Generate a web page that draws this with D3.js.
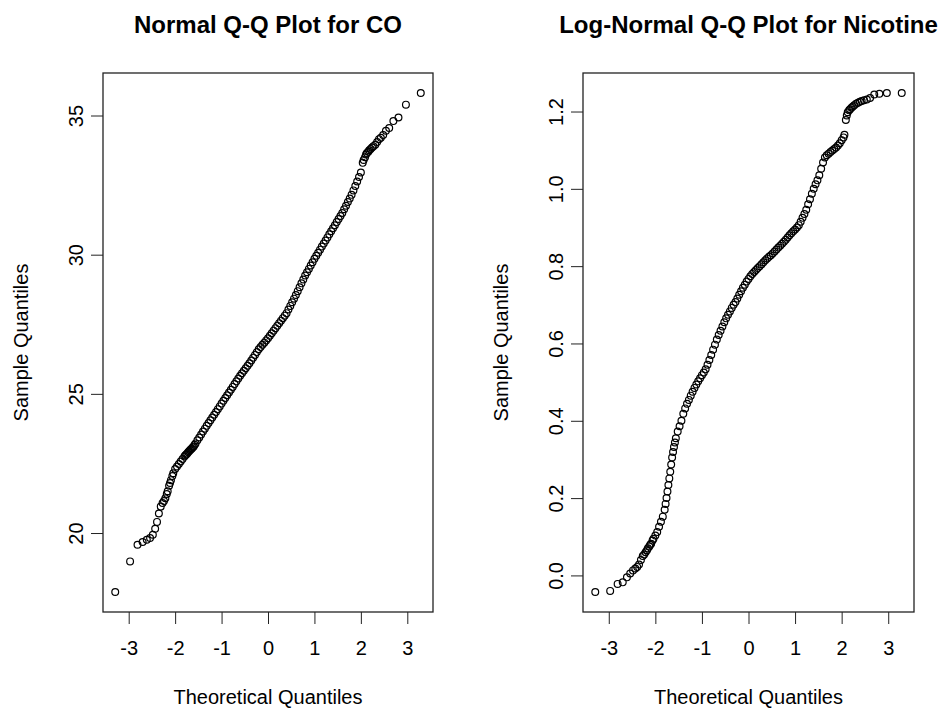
<!DOCTYPE html>
<html lang="en"><head>
<meta charset="utf-8">
<title>Q-Q plots</title>
<script src="https://cdn.jsdelivr.net/npm/d3@7"></script>
<style>
  body { margin: 0; background: #fff; }
  svg text { font-family: "Liberation Sans", Arial, sans-serif; fill: #000; }
</style>
</head>
<body>
<svg id="chart" width="943" height="713"></svg>
<script>
// theoretical normal quantiles (shared by both panels)
const theoretical = [
  -3.29, -2.97, -2.81, -2.70, -2.61, -2.54, -2.48, -2.43, -2.39, -2.35, -2.31,
  -2.27, -2.24, -2.21, -2.18, -2.16, -2.13, -2.11, -2.09, -2.06, -2.04,
  -2.00, -1.96, -1.92, -1.88, -1.84, -1.80, -1.76, -1.72, -1.68, -1.64,
  -1.60, -1.56, -1.52, -1.48, -1.44, -1.40, -1.36, -1.32, -1.28, -1.24,
  -1.20, -1.16, -1.12, -1.08, -1.04, -1.00, -0.96, -0.92, -0.88, -0.84,
  -0.80, -0.76, -0.72, -0.68, -0.64, -0.60, -0.56, -0.52, -0.48, -0.44,
  -0.40, -0.36, -0.32, -0.28, -0.24, -0.20, -0.16, -0.12, -0.08, -0.04,
  0.00, 0.04, 0.08, 0.12, 0.16, 0.20, 0.24, 0.28, 0.32, 0.36,
  0.40, 0.44, 0.48, 0.52, 0.56, 0.60, 0.64, 0.68, 0.72, 0.76,
  0.80, 0.84, 0.88, 0.92, 0.96, 1.00, 1.04, 1.08, 1.12, 1.16,
  1.20, 1.24, 1.28, 1.32, 1.36, 1.40, 1.44, 1.48, 1.52, 1.56,
  1.60, 1.64, 1.68, 1.72, 1.76, 1.80, 1.84, 1.88, 1.92, 1.96, 2.00,
  2.04, 2.06, 2.09, 2.11, 2.13, 2.16, 2.18, 2.21, 2.24, 2.27, 2.31,
  2.35, 2.39, 2.43, 2.48, 2.54, 2.61, 2.70, 2.81, 2.97, 3.29,
  -1.78, -1.74, -1.70, -1.66, -1.62, -1.58
];

// sample quantiles of CO
const co = [
  17.88, 18.98, 19.58, 19.68, 19.76, 19.82, 19.94, 20.15, 20.40, 20.70, 20.95,
  21.08, 21.15, 21.25, 21.40, 21.50, 21.70, 21.80, 21.90, 22.05, 22.15,
  22.30, 22.39, 22.48, 22.57, 22.66, 22.75, 22.82, 22.90, 22.97, 23.04,
  23.11, 23.22, 23.33, 23.43, 23.54, 23.65, 23.75, 23.85, 23.95, 24.05,
  24.15, 24.25, 24.35, 24.45, 24.55, 24.65, 24.75, 24.85, 24.95, 25.05,
  25.15, 25.25, 25.35, 25.45, 25.55, 25.65, 25.74, 25.83, 25.92, 26.01,
  26.10, 26.20, 26.30, 26.40, 26.50, 26.60, 26.68, 26.76, 26.84, 26.92,
  27.00, 27.09, 27.18, 27.27, 27.36, 27.45, 27.54, 27.63, 27.72, 27.81,
  27.90, 28.03, 28.16, 28.29, 28.42, 28.55, 28.69, 28.83, 28.97, 29.11,
  29.25, 29.37, 29.49, 29.61, 29.73, 29.85, 29.96, 30.07, 30.18, 30.29,
  30.40, 30.51, 30.62, 30.73, 30.84, 30.95, 31.06, 31.17, 31.28, 31.39,
  31.50, 31.63, 31.76, 31.89, 32.02, 32.15, 32.31, 32.47, 32.63, 32.79, 32.95,
  33.30, 33.40, 33.50, 33.60, 33.65, 33.70, 33.75, 33.80, 33.85, 33.90, 33.95,
  34.05, 34.15, 34.20, 34.30, 34.45, 34.55, 34.80, 34.93, 35.39, 35.81,
  22.79, 22.86, 22.94, 23.01, 23.08, 23.17
];

// sample quantiles of log(Nicotine)
const logNicotine = [
  -0.043, -0.040, -0.022, -0.018, -0.005, 0.005, 0.013, 0.018, 0.022, 0.028, 0.040,
  0.050, 0.054, 0.060, 0.065, 0.070, 0.075, 0.079, 0.082, 0.090, 0.095,
  0.103, 0.112, 0.126, 0.139, 0.152, 0.170, 0.200, 0.234, 0.268, 0.305,
  0.332, 0.355, 0.372, 0.386, 0.400, 0.418, 0.432, 0.444, 0.454, 0.465,
  0.475, 0.485, 0.494, 0.502, 0.510, 0.518, 0.525, 0.533, 0.545, 0.557,
  0.570, 0.584, 0.597, 0.610, 0.622, 0.633, 0.644, 0.655, 0.665, 0.674,
  0.683, 0.692, 0.700, 0.707, 0.716, 0.726, 0.735, 0.744, 0.752, 0.760,
  0.767, 0.774, 0.780, 0.785, 0.790, 0.795, 0.800, 0.805, 0.810, 0.815,
  0.820, 0.824, 0.828, 0.833, 0.838, 0.843, 0.848, 0.853, 0.858, 0.863,
  0.868, 0.874, 0.880, 0.885, 0.890, 0.895, 0.900, 0.906, 0.915, 0.925,
  0.935, 0.946, 0.960, 0.973, 0.987, 1.000, 1.012, 1.022, 1.035, 1.052,
  1.068, 1.081, 1.087, 1.091, 1.095, 1.099, 1.103, 1.107, 1.112, 1.118, 1.126,
  1.133, 1.140, 1.178, 1.190, 1.198, 1.203, 1.206, 1.210, 1.213, 1.216, 1.220,
  1.223, 1.225, 1.227, 1.229, 1.231, 1.235, 1.244, 1.246, 1.248, 1.248,
  0.185, 0.217, 0.251, 0.287, 0.319, 0.344
];

const xTicks = [-3, -2, -1, 0, 1, 2, 3];
const coTicks = [20, 25, 30, 35];
const nicotineTicks = [0.0, 0.2, 0.4, 0.6, 0.8, 1.0, 1.2];
const titles = ["Normal Q-Q Plot for CO", "Log-Normal Q-Q Plot for Nicotine"];
const xLabel = "Theoretical Quantiles";
const yLabel = "Sample Quantiles";

const svg = d3.select("#chart");
const plotTop = 73, plotBottom = 612;

// R style limits: data range padded by 4% on each side
function rlim(v) {
  let [a, b] = d3.extent(v);
  let pad = (b - a) * 0.04;
  return [a - pad, b + pad];
}

// R prints a plain hyphen for negatives
let fmtInt = d => String(d);
let fmtOne = d => d.toFixed(1);

let panels = [
  {left: 103, right: 433, values: co, ticks: coTicks, fmt: fmtInt, title: titles[0]},
  {left: 583, right: 914, values: logNicotine, ticks: nicotineTicks, fmt: fmtOne, title: titles[1]}
];

panels.forEach(p => {
  let x = d3.scaleLinear().domain(rlim(theoretical)).range([p.left, p.right]);
  let y = d3.scaleLinear().domain(rlim(p.values)).range([plotBottom, plotTop]);
  let pts = theoretical.map((t, i) => ({t: t, v: p.values[i]}));
  let g = svg.append("g");

  g.append("g")
    .selectAll("circle")
    .data(pts)
    .enter()
    .append("circle")
    .attr("cx", d => x(d.t))
    .attr("cy", d => y(d.v))
    .attr("r", 3.4)
    .attr("fill", "none")
    .attr("stroke", "#000")
    .attr("stroke-width", 1.2);

  // x axis
  let gx = g.append("g")
    .attr("transform", `translate(0,${plotBottom})`)
    .call(d3.axisBottom(x).tickValues(xTicks).tickSize(12).tickFormat(fmtInt));
  gx.select(".domain").remove();
  gx.selectAll("line").attr("stroke", "#222");
  gx.selectAll("text")
    .attr("y", 36)
    .attr("dy", "0.35em")
    .attr("font-size", 20)
    .attr("fill", "#111");

  // y axis with labels turned like R does
  let gy = g.append("g")
    .attr("transform", `translate(${p.left},0)`)
    .call(d3.axisLeft(y).tickValues(p.ticks).tickSize(12).tickFormat(p.fmt));
  gy.select(".domain").remove();
  gy.selectAll("line").attr("stroke", "#222");
  gy.selectAll("text")
    .attr("x", 0)
    .attr("y", -27)
    .attr("dy", "0.35em")
    .attr("transform", "rotate(-90)")
    .attr("text-anchor", "middle")
    .attr("font-size", 20)
    .attr("fill", "#111");
  gx.attr("font-family", null);
  gy.attr("font-family", null);

  g.append("rect")
    .attr("x", p.left)
    .attr("y", plotTop)
    .attr("width", p.right - p.left)
    .attr("height", plotBottom - plotTop)
    .attr("fill", "none")
    .attr("stroke", "#222")
    .attr("stroke-width", 1.3);

  let cx = (p.left + p.right) / 2;
  g.append("text")
    .attr("x", cx)
    .attr("y", 33)
    .attr("text-anchor", "middle")
    .attr("font-size", 24)
    .attr("font-weight", "bold")
    .text(p.title);

  g.append("text")
    .attr("x", cx)
    .attr("y", 704)
    .attr("text-anchor", "middle")
    .attr("font-size", 20)
    .attr("fill", "#111")
    .text(xLabel);

  g.append("text")
    .attr("transform", `translate(${p.left - 82},${(plotTop + plotBottom) / 2}) rotate(-90)`)
    .attr("dy", "0.35em")
    .attr("text-anchor", "middle")
    .attr("font-size", 20)
    .attr("fill", "#111")
    .text(yLabel);
});
</script>
</body>
</html>
